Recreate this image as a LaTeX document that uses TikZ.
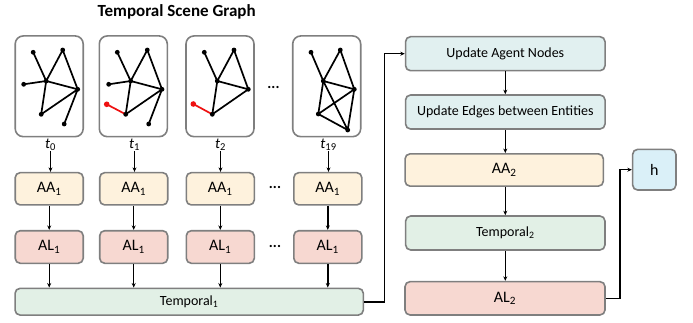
\documentclass[tikz,border=0pt]{standalone}
\usepackage{fontspec}
\setmainfont{Carlito}
\usetikzlibrary{arrows.meta}
\definecolor{boxgray}{HTML}{7F7F7F}
\definecolor{aafill}{HTML}{FEF2DD}
\definecolor{alfill}{HTML}{F7D8D1}
\definecolor{tmpfill}{HTML}{E2F0E6}
\definecolor{updfill}{HTML}{E1F0F0}
\definecolor{hfill}{HTML}{DAF0F8}
\definecolor{rededge}{HTML}{EE1111}
\tikzset{
  box/.style={draw=boxgray,line width=1.6pt,rounded corners=5pt,inner sep=0pt,font=\fontsize{14}{16}\selectfont},
  gbox/.style={box,minimum width=68pt,minimum height=100.7pt,rounded corners=8pt},
  aabox/.style={box,fill=aafill,minimum width=68pt,minimum height=32.3pt,font=\fontsize{16}{18}\selectfont},
  albox/.style={box,fill=alfill,minimum width=68pt,minimum height=32.6pt,font=\fontsize{16}{18}\selectfont},
  tmpbox/.style={box,fill=tmpfill,minimum height=26.7pt},
  updbox/.style={box,fill=updfill,minimum width=199.5pt,minimum height=34pt},
  tlab/.style={inner sep=0.5pt,font=\fontsize{15}{16}\selectfont},
  dots/.style={font=\fontsize{15}{16}\selectfont\bfseries},
  edge/.style={line width=1.7pt,line join=round},
  arr/.style={line width=1.4pt,-{Stealth[length=4.5pt,width=4pt]}}
}
\begin{document}
\begin{tikzpicture}[x=1pt,y=-1pt]
\useasboundingbox (0,0) rectangle (693,323);
\node[font=\fontsize{17}{19}\selectfont\bfseries] (title) at (176.7,12) {Temporal Scene Graph};
% scene graphs
\node[gbox] (g0) at (49.2,86.3) {};
\node[gbox] (g1) at (133.3,86.3) {};
\node[gbox] (g2) at (220,86.3) {};
\node[gbox] (g19) at (326.7,86.3) {};
\node[dots] (gdots) at (273.5,87) {...};
\begin{scope}[shift={(15.7,36)}]
 \draw[edge] (17.5,16.3)--(30.5,45)--(47,14)--(62,53.3)--(30.5,45)--(8,48.3);
 \draw[edge] (30.5,45)--(25.5,78.3)--(62,53.3)--(48.5,88);
 \foreach \p in {(17.5,16.3),(47,14),(30.5,45),(8,48.3),(62,53.3),(25.5,78.3),(48.5,88)}
   \fill \p circle[radius=2.4pt];
\end{scope}
\begin{scope}[shift={(99.3,36)}]
 \draw[edge] (18,16.3)--(31.4,45)--(48,14)--(62.7,53.3)--(31.4,45)--(9.4,48.3);
 \draw[edge] (31.4,45)--(26.4,78.3)--(62.7,53.3)--(49.4,88);
 \draw[edge,rededge] (7.4,68.3)--(26.4,78.3);
 \foreach \p in {(18,16.3),(48,14),(31.4,45),(9.4,48.3),(62.7,53.3),(26.4,78.3),(49.4,88)}
   \fill \p circle[radius=2.4pt];
 \fill[rededge] (7.4,68.3) circle[radius=2.8pt];
\end{scope}
\begin{scope}[shift={(185.7,36)}]
 \draw[edge] (18.6,16.3)--(31.6,45)--(48.3,14)--(62.6,53.3)--(31.6,45)--(26.6,78.3)--(62.6,53.3);
 \draw[edge,rededge] (7.6,68)--(26.6,78.3);
 \foreach \p in {(18.6,16.3),(48.3,14),(31.6,45),(62.6,53.3),(26.6,78.3)}
   \fill \p circle[radius=2.4pt];
 \fill[rededge] (7.6,68) circle[radius=2.8pt];
\end{scope}
\begin{scope}[shift={(292.3,36)}]
 \draw[edge] (18.7,16.3)--(31,45)--(48,14)--(62,53.3)--(31,45)--(55.4,94)--(26,78)--(62,53.3)--(55.4,94);
 \draw[edge] (31,45)--(26,78);
 \foreach \p in {(18.7,16.3),(48,14),(31,45),(62,53.3),(26,78),(55.4,94)}
   \fill \p circle[radius=2.4pt];
\end{scope}
\node[tlab] (t0) at (50.5,144.5) {\textit{t}\textsubscript{0}};
\node[tlab] (t1) at (134.5,144.5) {\textit{t}\textsubscript{1}};
\node[tlab] (t2) at (220.5,144.5) {\textit{t}\textsubscript{2}};
\node[tlab] (t19) at (328.5,144.5) {\textit{t}\textsubscript{19}};
% first stage
\node[aabox] (aa0) at (49.2,188.8) {AA\textsubscript{1}};
\node[aabox] (aa1) at (133.7,188.8) {AA\textsubscript{1}};
\node[aabox] (aa2) at (220.3,188.8) {AA\textsubscript{1}};
\node[aabox] (aa19) at (327.8,188.8) {AA\textsubscript{1}};
\node[dots] (aadots) at (275,187) {...};
\node[albox] (al0) at (49.2,247) {AL\textsubscript{1}};
\node[albox] (al1) at (133.7,247) {AL\textsubscript{1}};
\node[albox] (al2) at (220.3,247) {AL\textsubscript{1}};
\node[albox] (al19) at (327.8,247) {AL\textsubscript{1}};
\node[dots] (aldots) at (275,246) {...};
\node[tmpbox,minimum width=348.3pt] (tmp1) at (189.2,301.7) {Temporal\textsubscript{1}};
\foreach \i in {0,1,2,19}{
  \draw[arr] (t\i) -- (t\i |- aa\i.north);
  \draw[arr] (aa\i) -- (al\i);
  \draw[arr] (al\i) -- (al\i |- tmp1.north);
}
% second stage
\node[updbox] (upn) at (505.3,53.7) {Update Agent Nodes};
\node[updbox] (upe) at (505.3,112) {Update Edges between Entities};
\node[aabox,minimum width=198.3pt] (aa2nd) at (504.2,170) {AA\textsubscript{2}};
\node[tmpbox,minimum width=199.3pt,minimum height=34pt] (tmp2) at (505.3,233) {Temporal\textsubscript{2}};
\node[albox,minimum width=200pt,minimum height=33.3pt] (al2nd) at (505,298.3) {AL\textsubscript{2}};
\node[box,fill=hfill,minimum width=43.3pt,minimum height=40.7pt,font=\fontsize{16}{18}\selectfont] (h) at (654.3,169.7) {h};
\draw[line width=1.6pt,-{Stealth[length=4.5pt,width=4pt]}] (tmp1.east) -- ++(20.5,0) |- (upn.west);
\draw[arr] (upn) -- (upe);
\draw[arr] (upe) -- (upe |- aa2nd.north);
\draw[arr] (upe |- aa2nd.south) -- (upe |- tmp2.north);
\draw[arr] (tmp2) -- (tmp2 |- al2nd.north);
\draw[line width=1.6pt,-{Stealth[length=4.5pt,width=4pt]}] (al2nd.east) -- ++(14.3,0) |- (h.west);
\end{tikzpicture}
\end{document}
